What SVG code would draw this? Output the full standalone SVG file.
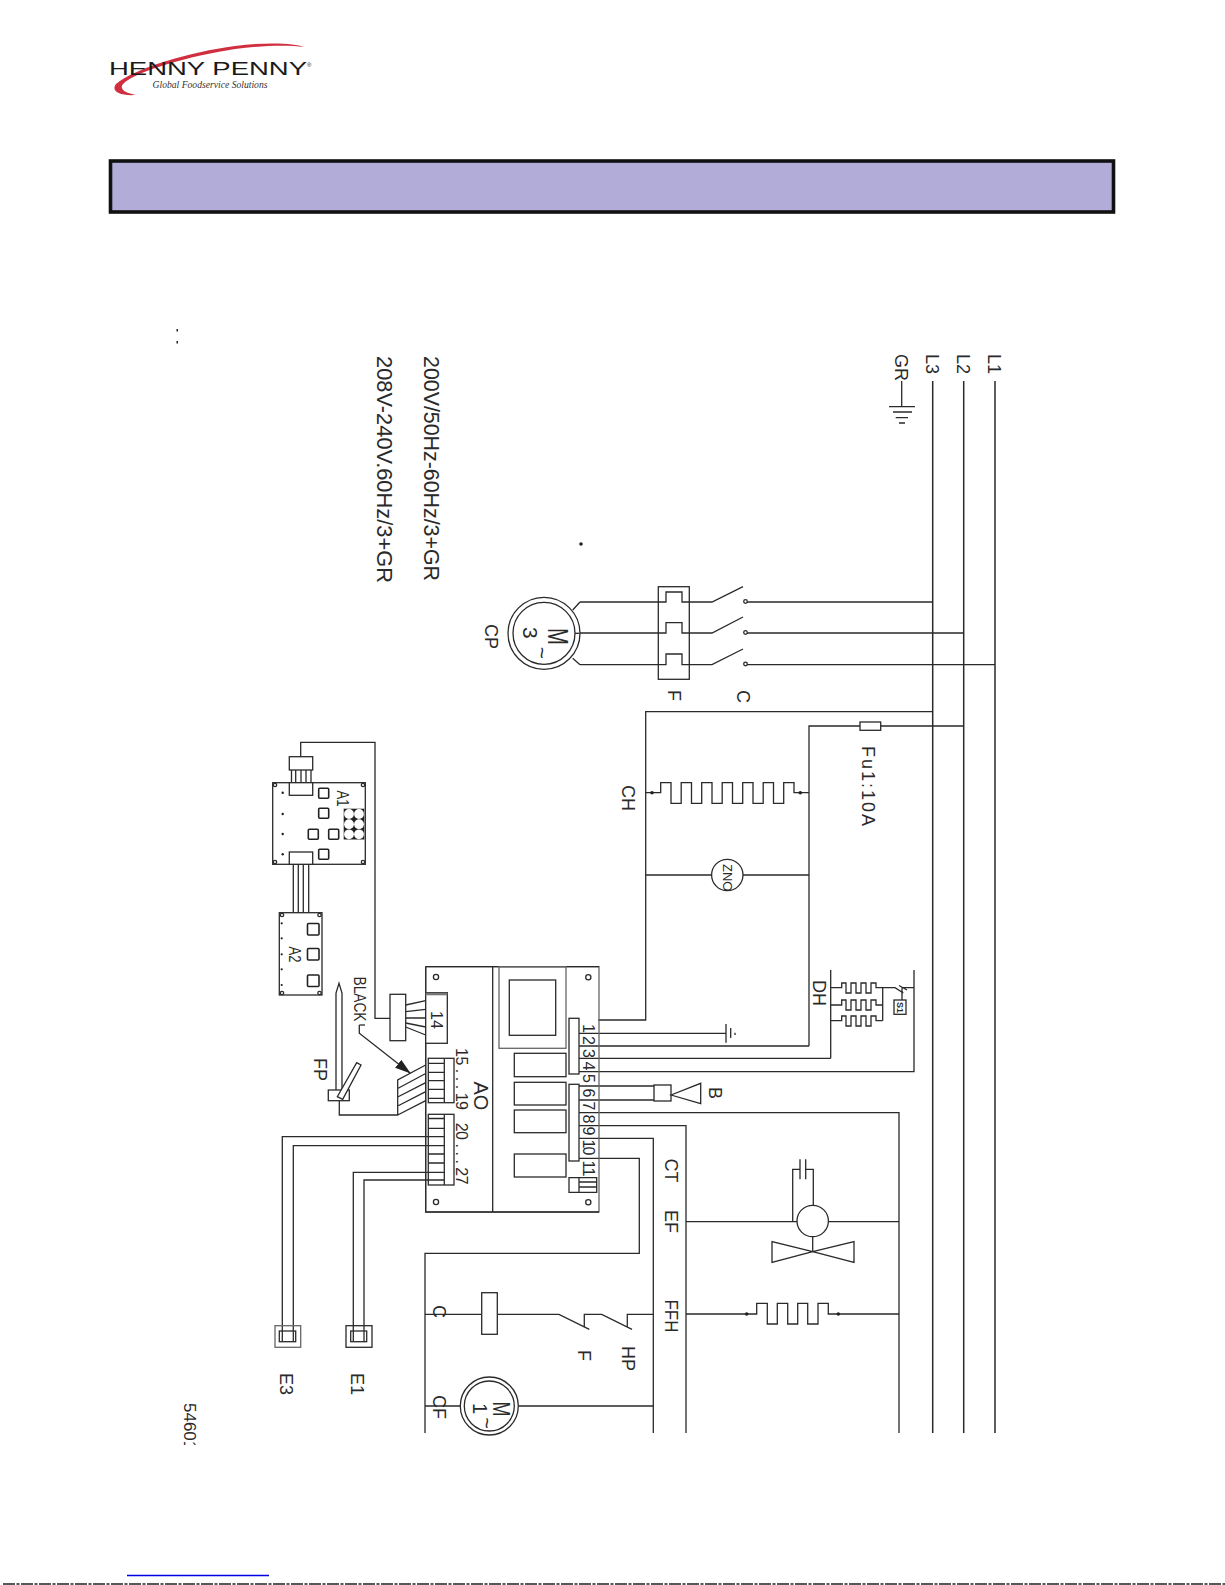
<svg xmlns="http://www.w3.org/2000/svg" width="1225" height="1585" viewBox="0 0 1225 1585">
<defs>
<style>
.w{fill:none;stroke:#2a2a2a;stroke-width:1.3}
.b{fill:none;stroke:#2a2a2a;stroke-width:1.5}
.s{fill:#fff;stroke:#2a2a2a;stroke-width:1.3}
.g{fill:none;stroke:#666;stroke-width:1.3}
.d{fill:#222}
.t{font-family:"Liberation Sans",Arial,sans-serif;font-size:18px;fill:#2a2a2a}
.n{font-size:16px}
</style>
<marker id="arr" markerWidth="16" markerHeight="10" refX="15" refY="5" orient="auto" markerUnits="userSpaceOnUse"><path d="M0 0L16 5L0 10Z" fill="#222"/></marker>
<clipPath id="clip54"><rect x="170" y="1395" width="40" height="50"/></clipPath>
</defs>
<rect width="1225" height="1585" fill="#fff"/>
<g id="logo">
<path d="M304 47C295 43 265 42 235 46C190 52 135 68 116 84C111 91 118 96 136 95C125 93 119 89 123 84C136 71 190 56 235 49C265 45 290 45 304 47Z" fill="#d02f40"/>
<text x="109" y="75" font-family="Liberation Sans,sans-serif" font-size="18.5" fill="#1a1a1a" textLength="198" lengthAdjust="spacingAndGlyphs">HENNY PENNY</text>
<text x="307" y="67" font-family="Liberation Sans,sans-serif" font-size="6" fill="#1a1a1a">®</text>
<text x="152.5" y="88" font-family="Liberation Serif,serif" font-style="italic" font-size="10.5" fill="#333" textLength="115" lengthAdjust="spacingAndGlyphs">Global Foodservice Solutions</text>
</g>
<rect id="title-bar" x="110.5" y="161" width="1003" height="51" fill="#b1acd8" stroke="#111" stroke-width="3.6"/>
<g id="connectors">
<path class="b" d="M995 381V1433M963.7 381V1433M932.7 381V1433"/>
<path class="w" d="M580 602H666V592H682V602H712L743 586.7M746 602H932.7M579.3 633H666V622.7H682V633H712L743 617M746 633H963.7M580 664.7H666V654H682V664.7H712L743 649M746 664.7H995M572.7 610L580 602M572.7 658.3L580 664.7"/>
<path class="w" d="M598 1020H645.7V711.7H932.7M809 1046V726H860M880.7 726H963.7M579 1033.3H726M579 1046H809M579 1058.3H830.7M579 1071.7H914V970M579 1086H654M579 1100H654M579 1112.7H899V1433M579 1125.7H686V1433M579 1138.3H653.3V1433M579 1158.3H639.3V1253.3H425V1433"/>
<path class="w" d="M645.7 792.7H660.7V782.7H671V803.3H681.2V782.7H691.5V803.3H701.7V782.7H712V803.3H722.2V782.7H732.5V803.3H742.7V782.7H753V803.3H763.2V782.7H773.5V803.3H783.7V782.7H794V792.7H809M645.7 875H711.6M743 875H809"/>
<path class="w" d="M686 1221.7H797M828 1221.7H899M792.7 1221.7V1169.3H800M805.7 1169.3H813.3V1205M812.7 1236.7V1251.7M686 1314H756.7V1303.3H767.3V1324H777.3V1303.3H787.7V1324H797.7V1303.3H807.7V1324H818V1303.3H828.3V1314H899"/>
<path class="w" d="M425 1314.3H481.7M497.3 1314.3H559L589.3 1329.3M584.3 1327.3V1314.3H601.7L632 1329.3M627.3 1327.3V1314.3H653.3M425 1406H460M518.5 1406H653.3"/>
<path class="w" d="M390 1018.3H375V742.3H300.7V756.7M293.3 864.3V912.7M298.3 864.3V912.7M303.3 864.3V912.7M308.7 864.3V912.7"/>
<path class="w" d="M339.3 1100.7V1115H397.7V1080L425.7 1065M397.7 1088.5L425.7 1073.5M397.7 1097L425.7 1082.7M397.7 1106L425.7 1091.7M397.7 1115L425.7 1100.7"/>
<path class="w" d="M405.7 1005L425.7 1000.7M405.7 1011.7L425.7 1009.3M405.7 1018H425.7M405.7 1023L425.7 1027M405.7 1027L425.7 1035"/>
<path class="w" d="M444.3 1136.7H282.3V1341.7M444.3 1145.7H293.3V1341.7M444.3 1172.3H353.3V1341.7M444.3 1180H364V1341.7"/>
<path class="w" marker-end="url(#arr)" d="M359.3 1025V1033.3L410 1073"/>
</g>
<g id="ground-GR"><path class="w" d="M901.7 381V406.7M889 406.7H915M893 412H912M895.7 417.7H908M899 423H905"/><text class="t" transform="translate(895 354) rotate(90)">GR</text></g>
<g id="L-labels"><text class="t" transform="translate(988 354) rotate(90)">L1</text><text class="t" transform="translate(957 354) rotate(90)">L2</text><text class="t" transform="translate(926 354) rotate(90)">L3</text></g>
<g id="voltages"><text class="t" style="font-size:22px" transform="translate(424 356) rotate(90)" textLength="225" lengthAdjust="spacingAndGlyphs">200V/50Hz-60Hz/3+GR</text><text class="t" style="font-size:22px" transform="translate(377 356) rotate(90)" textLength="227" lengthAdjust="spacingAndGlyphs">208V-240V.60Hz/3+GR</text></g>
<g id="marks"><rect class="d" x="176.5" y="329" width="1.5" height="2.5"/><rect class="d" x="176.5" y="341" width="1.5" height="2.5"/><circle class="d" cx="581" cy="544" r="1.8"/></g>
<g id="motor-CP">
<circle class="s" cx="544" cy="633.3" r="36"/><circle class="s" cx="544" cy="633.3" r="31"/>
<path class="w" d="M575 633.3H579.3"/>
<text class="t" style="font-size:30px" transform="translate(548 628) rotate(90)" textLength="17" lengthAdjust="spacingAndGlyphs">M</text>
<text class="t" style="font-size:21px" transform="translate(523 627) rotate(90)">3<tspan dx="8" dy="-11.5">~</tspan></text>
<text class="t" transform="translate(485 624) rotate(90)">CP</text>
</g>
<g id="overload-F"><rect class="w" x="658.3" y="586.7" width="31" height="92.6"/><text class="t" transform="translate(668 690) rotate(90)">F</text></g>
<g id="contactor-C"><circle class="s" cx="745.5" cy="601.5" r="1.8"/><circle class="s" cx="745.5" cy="632.5" r="1.8"/><circle class="s" cx="745.5" cy="664" r="1.8"/><text class="t" transform="translate(737 690) rotate(90)">C</text></g>
<g id="fuse-Fu1"><rect class="s" x="860" y="722" width="20.7" height="8.3"/><text class="t" transform="translate(862 746) rotate(90)" textLength="80">Fu1:10A</text></g>
<g id="heater-CH"><circle class="d" cx="652" cy="792.7" r="1.8"/><circle class="d" cx="800.3" cy="792.7" r="1.8"/><text class="t" transform="translate(622 785) rotate(90)">CH</text></g>
<g id="ZNO"><circle class="s" cx="727.3" cy="875" r="15.7"/><text class="t" style="font-size:13px" transform="translate(722.5 864) rotate(90)">ZNO</text></g>
<g id="heater-DH">
<path class="w" d="M830.7 970V1058.3M882.7 987.7V1020.7"/>
<path class="w" d="M830.7 987.7H841.7V983H846V993H851V983H856V993H861V983H866V993H871V983H876V987.7H895L903.3 993M903 987.7H914M902 987V1000M899 985.5L907 990"/>
<path class="w" d="M830.7 1005H841.7V1000H846V1010H851V1000H856V1010H861V1000H866V1010H871V1000H876V1005H882.7"/>
<path class="w" d="M830.7 1020.7H841.7V1016H846V1026H851V1016H856V1026H861V1016H866V1026H871V1016H876V1020.7H882.7"/>
<rect class="s" x="894" y="1000" width="12" height="14.3"/>
<text class="t" style="font-size:9px;font-weight:bold" transform="translate(897 1002) rotate(90)">S1</text>
<text class="t" transform="translate(813 980) rotate(90)">DH</text>
</g>
<g id="board-AO">
<rect class="g" x="425.7" y="966.7" width="173.3" height="245.3"/>
<path class="w" d="M425.7 966.7H599M425.7 966.7V1212H599M492.7 966.7V1212"/>
<rect class="g" x="499" y="966.7" width="67" height="81.6"/>
<rect class="w" x="509.3" y="980" width="46.4" height="55.3"/>
<rect class="w" x="514.3" y="1053.3" width="51.7" height="23.4"/>
<rect class="w" x="514.3" y="1082.3" width="51.7" height="22.7"/>
<rect class="w" x="514.3" y="1110" width="51.7" height="22.7"/>
<rect class="w" x="514.3" y="1154" width="51.7" height="23"/>
<rect class="s" x="569" y="1018.3" width="10" height="55.7"/>
<rect class="s" x="569" y="1084.3" width="10" height="76.7"/>
<path class="w" d="M569 1177.7H596.7V1192.3H569ZM579 1177.7V1192.3M579 1182H596.7M579 1187H596.7"/>
<circle class="w" cx="588.3" cy="977.3" r="2.6"/><circle class="w" cx="588.3" cy="1202.3" r="2.6"/><circle class="w" cx="436" cy="977" r="2.6"/><circle class="w" cx="436" cy="1202" r="2.6"/>
<text class="t n" transform="translate(582.5 1024) rotate(90)">1</text>
<text class="t n" transform="translate(582.5 1036) rotate(90)">2</text>
<text class="t n" transform="translate(582.5 1049) rotate(90)">3</text>
<text class="t n" transform="translate(582.5 1061.5) rotate(90)">4</text>
<text class="t n" transform="translate(582.5 1074) rotate(90)">5</text>
<text class="t n" transform="translate(582.5 1088.5) rotate(90)">6</text>
<text class="t n" transform="translate(582.5 1101.5) rotate(90)">7</text>
<text class="t n" transform="translate(582.5 1114.5) rotate(90)">8</text>
<text class="t n" transform="translate(582.5 1126.5) rotate(90)">9</text>
<text class="t n" transform="translate(582.5 1139.5) rotate(90)" textLength="16">10</text>
<text class="t n" transform="translate(582.5 1160.5) rotate(90)" textLength="16">11</text>
<rect class="s" x="425.7" y="992.7" width="21.6" height="50.6"/>
<rect x="425.7" y="992.7" width="21.6" height="2.6" fill="#777"/>
<text class="t n" transform="translate(431 1011) rotate(90)">14</text>
<rect class="s" x="428.3" y="1058.3" width="25.7" height="44.4"/>
<path class="w" d="M444.3 1058.3V1102.7M428.3 1063.3H444.3M428.3 1072.3H444.3M428.3 1080.7H444.3M428.3 1089.3H444.3M428.3 1098.3H444.3"/>
<rect class="s" x="428.3" y="1114.3" width="25.7" height="70.7"/>
<path class="w" d="M444.3 1114.3V1185M428.3 1118.5H444.3M428.3 1128.3H444.3M428.3 1136.7H444.3M428.3 1145.7H444.3M428.3 1154H444.3M428.3 1163H444.3M428.3 1172.3H444.3M428.3 1180H444.3"/>
<text class="t n" transform="translate(456 1048) rotate(90)" textLength="62">15 . . . 19</text>
<text class="t n" transform="translate(456 1122.7) rotate(90)" textLength="62">20 . . . 27</text>
<text class="t" style="font-size:20px" transform="translate(473.5 1081.5) rotate(90)">AO</text>
</g>
<g id="plug-14"><rect class="s" x="390" y="994.3" width="15.7" height="46.4"/></g>
<g id="buzzer-B"><rect class="s" x="654" y="1085" width="17" height="16"/><path class="w" d="M671 1095L700.7 1083.3V1103.7Z"/><text class="t" transform="translate(709 1087) rotate(90)">B</text></g>
<g id="earth-board"><path class="w" d="M726 1024V1042.7M730.7 1028V1038M735 1032.7V1035"/></g>
<g id="labels-CT-EF-FFH"><text class="t" transform="translate(664.5 1158.5) rotate(90)">CT</text><text class="t" transform="translate(664.5 1210) rotate(90)">EF</text><text class="t" transform="translate(664.5 1299.5) rotate(90)" textLength="33" lengthAdjust="spacingAndGlyphs">FFH</text></g>
<g id="fan-EF"><circle class="s" cx="812.7" cy="1221" r="15.7"/><path class="w" d="M800 1159.3V1179.3M805.7 1159.3V1179.3"/><path class="w" d="M812.7 1251.7L772 1241.7V1262.3ZM812.7 1251.7L854 1241.7V1262.3Z"/></g>
<g id="heater-FFH"><circle class="d" cx="746.7" cy="1314" r="1.8"/><circle class="d" cx="838.3" cy="1314" r="1.8"/></g>
<g id="coil-C"><rect class="s" x="481.7" y="1292.7" width="15.6" height="41.6"/><text class="t" transform="translate(433 1305) rotate(90)">C</text></g>
<g id="switch-labels"><text class="t" transform="translate(578 1350) rotate(90)">F</text><text class="t" transform="translate(622 1346) rotate(90)">HP</text></g>
<g id="motor-CF"><circle class="s" cx="489.3" cy="1406" r="29"/><circle class="s" cx="489.3" cy="1406" r="25"/><text class="t" style="font-size:23px" transform="translate(493 1401.5) rotate(90)" textLength="15" lengthAdjust="spacingAndGlyphs">M</text><text class="t" style="font-size:20px" transform="translate(473 1403) rotate(90)">1<tspan dx="3" dy="-7">~</tspan></text><text class="t" transform="translate(433 1395) rotate(90)">CF</text></g>
<g id="A1">
<rect class="s" x="272.7" y="782.7" width="92.6" height="81.6"/>
<circle class="w" cx="275" cy="785" r="1.7"/><circle class="w" cx="363" cy="785" r="1.7"/><circle class="w" cx="275" cy="862" r="1.7"/><circle class="w" cx="363" cy="862" r="1.7"/>
<rect class="s" x="289.3" y="756.7" width="23.4" height="13.3"/>
<path class="w" d="M291.5 770V783M295.7 770V783M301 770V783M306 770V783M311 770V783"/>
<rect class="s" x="289.3" y="782.7" width="23.4" height="12.6"/>
<rect class="s" x="289.3" y="852" width="23.4" height="12.3"/>
<g fill="#fff" stroke="#222" stroke-width="1.6"><rect x="318.7" y="788.3" width="10" height="10" rx="1"/><rect x="318.7" y="808.3" width="10" height="10" rx="1"/><rect x="308.3" y="829.3" width="10" height="10" rx="1"/><rect x="328.7" y="829.3" width="10" height="10" rx="1"/><rect x="318.7" y="849.3" width="10" height="10" rx="1"/></g>
<rect class="d" x="343.7" y="808.7" width="20.6" height="30.8"/>
<g fill="#fff"><circle cx="349" cy="814" r="4.9"/><circle cx="359" cy="814" r="4.9"/><circle cx="349" cy="824.2" r="4.9"/><circle cx="359" cy="824.2" r="4.9"/><circle cx="349" cy="834.3" r="4.9"/><circle cx="359" cy="834.3" r="4.9"/></g>
<g class="d"><circle cx="282.7" cy="792.7" r="1.2"/><circle cx="282.7" cy="814" r="1.2"/><circle cx="282.7" cy="834" r="1.2"/><circle cx="282.7" cy="854.3" r="1.2"/></g>
<text class="t n" transform="translate(336.5 790.5) rotate(90)" textLength="16" lengthAdjust="spacingAndGlyphs">A1</text>
</g>
<g id="A2">
<rect class="s" x="279.3" y="912.7" width="42.7" height="82.3"/>
<circle class="w" cx="282" cy="915" r="1.7"/><circle class="w" cx="319.5" cy="915" r="1.7"/><circle class="w" cx="282" cy="993" r="1.7"/><circle class="w" cx="319.5" cy="993" r="1.7"/>
<g fill="#fff" stroke="#222" stroke-width="1.6"><rect x="307.5" y="923.5" width="11.5" height="11.5" rx="1"/><rect x="307.5" y="948.5" width="11.5" height="11.5" rx="1"/><rect x="307.5" y="975" width="11.5" height="11.5" rx="1"/></g>
<g class="d"><circle cx="281.7" cy="923.3" r="1.1"/><circle cx="281.7" cy="938.3" r="1.1"/><circle cx="281.7" cy="954.3" r="1.1"/><circle cx="281.7" cy="969.3" r="1.1"/><circle cx="281.7" cy="985" r="1.1"/></g>
<text class="t n" transform="translate(288.5 946.5) rotate(90)" textLength="16" lengthAdjust="spacingAndGlyphs">A2</text>
</g>
<g id="label-BLACK"><text class="t n" transform="translate(353.5 976.5) rotate(90)" textLength="45" lengthAdjust="spacingAndGlyphs">BLACK</text><path class="w" d="M359.3 1025H365"/></g>
<g id="probe-FP">
<path class="s" d="M336 1090V993L339 983.3L342 993V1090"/>
<rect class="s" x="328.3" y="1090" width="21" height="10.7"/>
<path class="s" d="M337.3 1096.7L356.7 1062.7L361 1065L342.7 1099.3Z"/>
<text class="t" transform="translate(313.5 1058) rotate(90)">FP</text>
</g>
<g id="E3"><rect class="g" x="275" y="1325.7" width="25.7" height="21.6"/><rect class="w" x="279.3" y="1331" width="16.4" height="10.7"/><text class="t" transform="translate(280 1373) rotate(90)">E3</text></g>
<g id="E1"><rect class="w" x="346" y="1325.7" width="26" height="21.6"/><rect class="w" x="350.7" y="1331" width="16" height="10.7"/><text class="t" transform="translate(351 1373) rotate(90)">E1</text></g>
<g id="doc-number" clip-path="url(#clip54)"><text class="t" style="font-size:17px" transform="translate(184 1403) rotate(90)">54601</text></g>
<g id="footer"><path d="M127 1575.5H269" stroke="#0000e0" stroke-width="1.3"/><path d="M3 1584H1225" stroke="#222" stroke-width="1.3" stroke-dasharray="12 1.5 3 1.5"/></g>
</svg>
